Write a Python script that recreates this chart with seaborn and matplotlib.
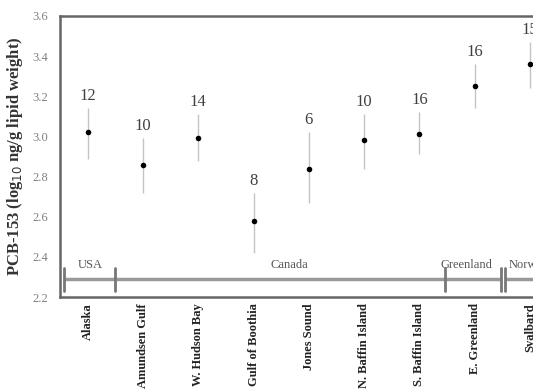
import matplotlib
matplotlib.use("Agg")
import matplotlib.pyplot as plt
import seaborn as sns
import pandas as pd

sites = ["Alaska", "Amundsen Gulf", "W. Hudson Bay", "Gulf of Boothia", "Jones Sound",
         "N. Baffin Island", "S. Baffin Island", "E. Greenland", "Svalbard"]
means = [3.02, 2.86, 2.99, 2.58, 2.84, 2.98, 3.01, 3.25, 3.36]
upper = [3.14, 2.99, 3.11, 2.72, 3.02, 3.11, 3.12, 3.36, 3.47]
lower = [2.89, 2.72, 2.88, 2.42, 2.67, 2.84, 2.91, 3.14, 3.24]
n_labels = ["12", "10", "14", "8", "6", "10", "16", "16", "15"]

regions = ["USA", "Canada", "Greenland", "Norway"]
region_start = [-0.43, 0.49, 6.47, 7.54]
region_end = [0.49, 6.47, 7.47, 9.0]
region_text_x = [0.05, 3.65, 6.85, 7.98]

sns.set_style("white")
plt.rcParams["font.family"] = ["Liberation Serif", "DejaVu Serif"]

df = pd.DataFrame({"site": sites, "x": range(len(sites)), "mean": means})

fig = plt.figure(figsize=(5.33, 3.92), dpi=100)
ax = fig.add_axes([60 / 533, 1 - 297 / 392, 497.7 / 533, 281 / 392])

ax.vlines(df["x"], lower, upper, color="#c4c4c4", lw=1.0, zorder=2)
sns.scatterplot(data=df, x="x", y="mean", color="black", s=16, edgecolor="black",
                linewidth=0, ax=ax, zorder=3, legend=False)

for xi, top, lab in zip(df["x"], upper, n_labels):
    ax.text(xi, top + 0.02, lab, ha="center", va="bottom", fontsize=12,
            color="#404040")

# region brackets
ybar = 2.29
for s, e in zip(region_start, region_end):
    ax.plot([s, e], [ybar, ybar], color="#999999", lw=2.5, solid_capstyle="butt", zorder=2)
for tx in [-0.43, 0.49, 6.47, 7.47, 7.54]:
    ax.plot([tx, tx], [2.228, 2.342], color="#777777", lw=2.0, zorder=2)
for lab, tx in zip(regions, region_text_x):
    ax.text(tx, 2.328, lab, ha="center", va="bottom", fontsize=9, color="#555555")

ax.set_xlim(-0.5, 8.5)
ax.set_ylim(2.2, 3.6)
ax.set_yticks([2.2, 2.4, 2.6, 2.8, 3.0, 3.2, 3.4, 3.6])
ax.set_yticklabels(["2.2", "2.4", "2.6", "2.8", "3.0", "3.2", "3.4", "3.6"],
                   fontsize=9, color="#808080")
ax.set_xticks(list(df["x"]))
ax.set_xticklabels(sites, rotation=90, fontsize=9, fontweight="bold", color="#222222")
ax.tick_params(axis="both", direction="out", length=2.5, width=1.2, color="#555555", pad=2)
ax.tick_params(axis="y", pad=6)
ax.set_xlabel("")
ax.set_ylabel("PCB-153 (log$_{10}$ ng/g lipid weight)", fontsize=12, fontweight="bold",
              color="#333333", labelpad=5)

for side in ["left", "bottom", "top", "right"]:
    ax.spines[side].set_color("#666666")
    ax.spines[side].set_linewidth(1.8)

fig.savefig("out.png", dpi=100)
